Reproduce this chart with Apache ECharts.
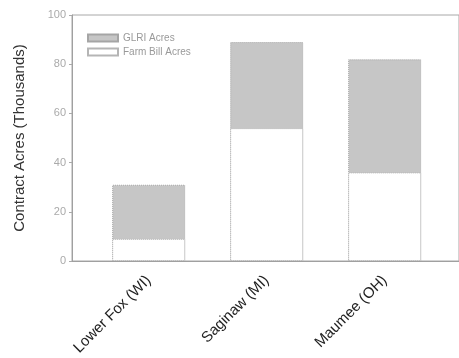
<!DOCTYPE html>
<html>
<head>
<meta charset="utf-8">
<script src="https://cdn.jsdelivr.net/npm/echarts@6/dist/echarts.min.js"></script>
<style>html,body{margin:0;padding:0;background:#fff}#c{width:459px;height:358px}</style>
</head>
<body>
<div id="c"></div>
<script>
const categories = ['Lower Fox (WI)', 'Saginaw (MI)', 'Maumee (OH)'];
const farmBillAcres = [9, 54, 36];
const glriAcres = [22, 35, 46];
const yTicks = [0, 20, 40, 60, 80, 100];

const positions = categories.map((c, i) => i + 1);
const totals = glriAcres.map((g, i) => g + farmBillAcres[i]);
const chart = echarts.init(document.getElementById('c'));
const font = 'Liberation Sans, Arial, sans-serif';
chart.setOption({
  animation: false,
  textStyle: { fontFamily: font },
  grid: { left: 72, right: -2, top: 15, bottom: 97, show: true, borderColor: '#a8a8a8', borderWidth: 1 },
  legend: {
    data: ['GLRI Acres', 'Farm Bill Acres'],
    orient: 'vertical', left: 82, top: 28, itemWidth: 30, itemHeight: 7, itemGap: 4,
    icon: 'rect',
    textStyle: { color: '#999', fontSize: 10, fontFamily: font }
  },
  xAxis: {
    type: 'value', min: 0.35, max: 3.63,
    splitLine: { show: false },
    axisLine: { show: true, lineStyle: { color: '#a0a0a0', width: 1 } },
    axisTick: { show: false },
    axisLabel: {
      customValues: positions,
      formatter: v => categories[Math.round(v) - 1] || '',
      rotate: 45, color: '#222', fontSize: 15, margin: 17, fontFamily: font
    }
  },
  yAxis: {
    type: 'value', min: yTicks[0], max: yTicks[yTicks.length - 1], interval: 20,
    name: 'Contract Acres (Thousands)', nameLocation: 'middle', nameGap: 45,
    nameTextStyle: { color: '#333', fontSize: 15, fontFamily: font },
    splitLine: { show: false },
    axisLine: { show: true, lineStyle: { color: '#a0a0a0', width: 1 } },
    axisTick: { show: true, length: 3, lineStyle: { color: '#aaa' } },
    axisLabel: { color: '#aaa', fontSize: 11, margin: 6, fontFamily: font }
  },
  series: [
    {
      name: 'GLRI Acres', type: 'bar', barWidth: 73, barGap: '-100%',
      data: positions.map((p, i) => [p, totals[i]]),
      itemStyle: { color: '#c6c6c6', borderColor: '#a5a5a5', borderWidth: 1, borderType: 'dotted' }
    },
    {
      name: 'Farm Bill Acres', type: 'bar', barWidth: 73, barGap: '-100%',
      data: positions.map((p, i) => [p, farmBillAcres[i]]),
      itemStyle: { color: '#ffffff', borderColor: '#b5b5b5', borderWidth: 1, borderType: 'dotted' }
    }
  ]
});
</script>
</body>
</html>
